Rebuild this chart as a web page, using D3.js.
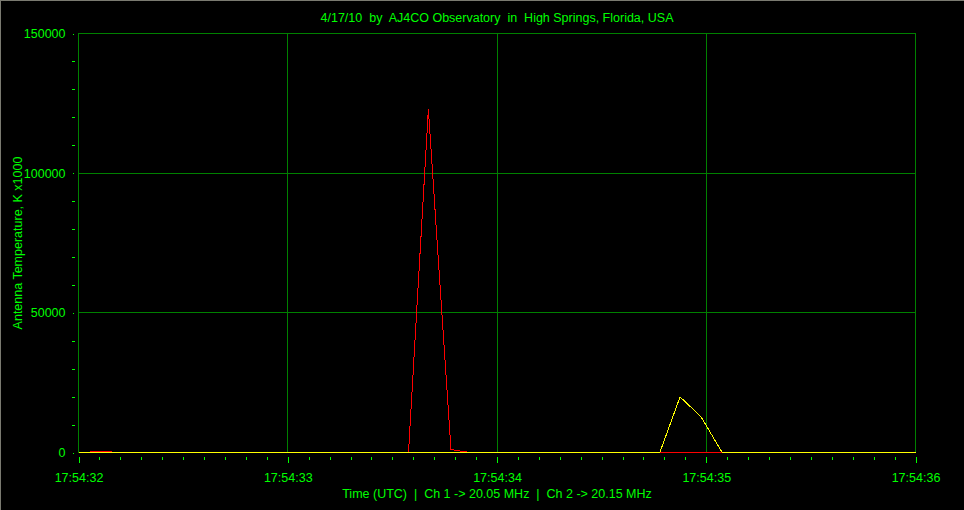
<!DOCTYPE html>
<html>
<head>
<meta charset="utf-8">
<script src="https://cdn.jsdelivr.net/npm/d3@7"></script>
<style>
  html, body { margin: 0; padding: 0; background: #000; }
  svg { display: block; }
  text { font-family: "Liberation Sans", Arial, sans-serif; fill: #00ff00; white-space: pre; }
</style>
</head>
<body>
<div id="chart"></div>
<script>
var svgWidth = 964;
var svgHeight = 510;

// time is seconds after 17:54:32 UTC
var ch1Times = [0, 0.052, 0.057, 0.156, 0.161, 1.577, 1.672, 1.780, 1.871, 4.0];
var ch1Values = [0, 0, 450, 450, 0, 0, 122800, 1070, 0, 0];
var ch2Times = [0, 2.778, 2.875, 2.975, 3.076, 4.0];
var ch2Values = [0, 0, 19900, 12800, 0, 0];

var xTickValues = [0, 1, 2, 3, 4];
var xTickLabels = ["17:54:32", "17:54:33", "17:54:34", "17:54:35", "17:54:36"];
var yTickValues = [0, 50000, 100000, 150000];
var yTickLabels = ["0", "50000", "100000", "150000"];

var titleText = "4/17/10  by  AJ4CO Observatory  in  High Springs, Florida, USA";
var xTitle = "Time (UTC)  |  Ch 1 -> 20.05 MHz  |  Ch 2 -> 20.15 MHz";
var yTitle = "Antenna Temperature, K x1000";

var margin = { top: 33.5, left: 78.5, right: 915.5, bottom: 452.5 };

var svg = d3.select("#chart")
  .append("svg")
  .attr("width", svgWidth)
  .attr("height", svgHeight);

svg.append("rect")
  .attr("width", svgWidth)
  .attr("height", svgHeight)
  .attr("fill", "#000");

// window frame edge (top / left)
svg.append("line").attr("x1", 0).attr("x2", svgWidth).attr("y1", 0.5).attr("y2", 0.5)
  .attr("stroke", "#7a7a70");
svg.append("line").attr("x1", 0.5).attr("x2", 0.5).attr("y1", 0).attr("y2", svgHeight)
  .attr("stroke", "#7a7a70");

var x = d3.scaleLinear().domain([0, 4]).range([margin.left, margin.right]);
var y = d3.scaleLinear().domain([0, 150000]).range([margin.bottom, margin.top]);

var grid = svg.append("g").attr("shape-rendering", "crispEdges");

grid.selectAll(".vgrid")
  .data(xTickValues.slice(1, -1))
  .enter()
  .append("line")
  .attr("x1", d => x(d)).attr("x2", d => x(d))
  .attr("y1", margin.top).attr("y2", margin.bottom)
  .attr("stroke", "#008000");

grid.selectAll(".hgrid")
  .data(yTickValues.slice(1, -1))
  .enter()
  .append("line")
  .attr("x1", margin.left).attr("x2", margin.right)
  .attr("y1", d => y(d)).attr("y2", d => y(d))
  .attr("stroke", "#008000");

grid.append("rect")
  .attr("x", margin.left).attr("y", margin.top)
  .attr("width", margin.right - margin.left)
  .attr("height", margin.bottom - margin.top)
  .attr("fill", "none")
  .attr("stroke", "#008000");

// x axis ticks
var xMinor = d3.axisBottom(x)
  .tickValues(d3.range(0, 41).map(i => i / 10))
  .tickSize(3)
  .tickFormat("");
var xMajor = d3.axisBottom(x)
  .tickValues(xTickValues)
  .tickSize(6)
  .tickPadding(10)
  .tickFormat((d, i) => xTickLabels[i]);

var gxMinor = svg.append("g")
  .attr("transform", "translate(0, 457)")
  .attr("shape-rendering", "crispEdges")
  .call(xMinor);
var gxMajor = svg.append("g")
  .attr("transform", "translate(0, 457)")
  .attr("shape-rendering", "crispEdges")
  .call(xMajor);

[gxMinor, gxMajor].forEach(function(g) {
  g.select(".domain").remove();
  g.selectAll("line").attr("stroke", "#00ff00");
  g.selectAll("text")
    .attr("fill", "#00ff00")
    .attr("font-size", "12.5px")
    .attr("font-family", "Liberation Sans, Arial, sans-serif");
});

// y axis ticks
var yMinor = d3.axisLeft(y)
  .tickValues(d3.range(0, 151, 10).filter(v => v % 50 != 0).map(v => v * 1000))
  .tickSize(3)
  .tickFormat("");
var yMajor = d3.axisLeft(y)
  .tickValues(yTickValues)
  .tickSize(1)
  .tickPadding(7)
  .tickFormat((d, i) => yTickLabels[i]);

var gyMinor = svg.append("g")
  .attr("transform", "translate(74.5, 0)")
  .attr("shape-rendering", "crispEdges")
  .call(yMinor);
var gyMajor = svg.append("g")
  .attr("transform", "translate(73.5, 0)")
  .attr("shape-rendering", "crispEdges")
  .call(yMajor);

[gyMinor, gyMajor].forEach(function(g) {
  g.select(".domain").remove();
  g.selectAll("line").attr("stroke", "#00ff00");
  g.selectAll("text")
    .attr("fill", "#00ff00")
    .attr("font-size", "12.5px")
    .attr("font-family", "Liberation Sans, Arial, sans-serif");
});

// series
var ch1 = ch1Times.map((t, i) => [t, ch1Values[i]]);
var ch2 = ch2Times.map((t, i) => [t, ch2Values[i]]);

var line = d3.line()
  .x(d => x(d[0]))
  .y(d => y(d[1]));

svg.append("path")
  .datum(ch1)
  .attr("d", line)
  .attr("fill", "none")
  .attr("stroke", "#ff0000")
  .attr("stroke-width", 1)
  .attr("shape-rendering", "crispEdges");

svg.append("path")
  .datum(ch2)
  .attr("d", line)
  .attr("fill", "none")
  .attr("stroke", "#ffff00")
  .attr("stroke-width", 1)
  .attr("shape-rendering", "crispEdges");

// titles
svg.append("text")
  .attr("x", (margin.left + margin.right) / 2)
  .attr("y", 22)
  .attr("text-anchor", "middle")
  .attr("font-size", "12.5px")
  .text(titleText);

svg.append("text")
  .attr("x", (margin.left + margin.right) / 2)
  .attr("y", 498)
  .attr("text-anchor", "middle")
  .attr("font-size", "12.5px")
  .text(xTitle);

svg.append("text")
  .attr("transform", `translate(22, ${(margin.top + margin.bottom) / 2}) rotate(-90)`)
  .attr("text-anchor", "middle")
  .attr("font-size", "12.5px")
  .text(yTitle);
</script>
</body>
</html>
